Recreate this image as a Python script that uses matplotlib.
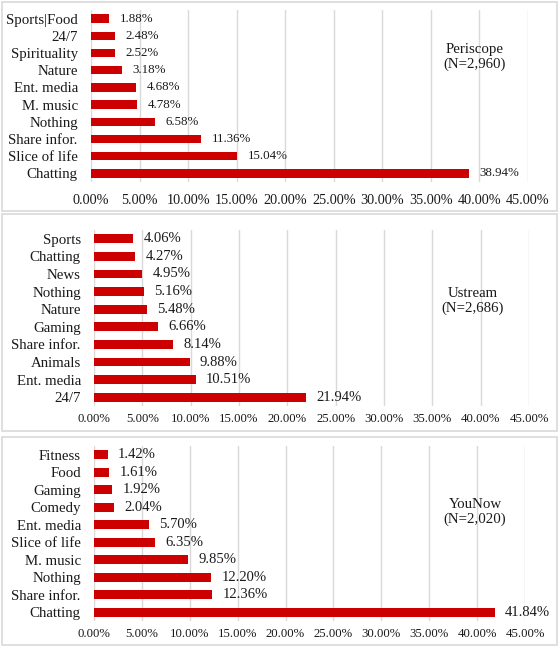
import matplotlib
matplotlib.use("Agg")
import matplotlib.pyplot as plt
from matplotlib.patches import Rectangle
from matplotlib.ticker import FuncFormatter

plt.rcParams['font.family'] = ['Liberation Serif', 'DejaVu Serif']

# ---- data ----
periscope_cats = ["Sports|Food", "24/7", "Spirituality", "Nature", "Ent. media",
                  "M. music", "Nothing", "Share infor.", "Slice of life", "Chatting"]
periscope_vals = [1.88, 2.48, 2.52, 3.18, 4.68, 4.78, 6.58, 11.36, 15.04, 38.94]

ustream_cats = ["Sports", "Chatting", "News", "Nothing", "Nature", "Gaming",
                "Share infor.", "Animals", "Ent. media", "24/7"]
ustream_vals = [4.06, 4.27, 4.95, 5.16, 5.48, 6.66, 8.14, 9.88, 10.51, 21.94]

younow_cats = ["Fitness", "Food", "Gaming", "Comedy", "Ent. media", "Slice of life",
               "M. music", "Nothing", "Share infor.", "Chatting"]
younow_vals = [1.42, 1.61, 1.92, 2.04, 5.70, 6.35, 9.85, 12.20, 12.36, 41.84]

panel_titles = ["Periscope\n(N=2,960)", "Ustream\n(N=2,686)", "YouNow\n(N=2,020)"]
x_ticks = [0, 5, 10, 15, 20, 25, 30, 35, 40, 45]

W, H = 560, 647
fig = plt.figure(figsize=(W / 100, H / 100), dpi=100)
fig.patch.set_facecolor("white")

def fx(px):
    return px / W

def fy(py):
    return 1 - py / H

# panel frames (pixel boxes: left, top, right, bottom)
frames = [(2, 2, 557, 211), (2, 214, 557, 431), (2, 437, 557, 645)]
for (l, t, r, b) in frames:
    fig.patches.append(Rectangle((fx(l), fy(b)), fx(r) - fx(l), fy(t) - fy(b),
                                 transform=fig.transFigure, fill=False,
                                 edgecolor="#d9d9d9", linewidth=1.2))

# axes boxes (left, top, right, bottom) in pixels
axes_px = [(91, 10, 528, 182), (94, 230, 529, 406), (94, 446, 525, 621)]
title_pos = [(475, 57), (473, 301), (475, 512)]
val_size = [9.3, 10.5, 10.5]
tick_size = [10.3, 9.2, 9.2]
tick_pad = [9.0, 5.0, 5.0]
cat_pad = [9.5, 9.5, 9.5]

datasets = [(periscope_cats, periscope_vals),
            (ustream_cats, ustream_vals),
            (younow_cats, younow_vals)]

for i, ((cats, vals), (l, t, r, b)) in enumerate(zip(datasets, axes_px)):
    ax = fig.add_axes([fx(l), fy(b), fx(r) - fx(l), fy(t) - fy(b)])
    y = list(range(len(cats)))
    ax.barh(y, vals, height=0.5, color="#cc0000", zorder=3)
    ax.set_ylim(len(cats) - 0.5, -0.5)
    ax.set_xlim(0, 45)
    ax.set_xticks(x_ticks)
    ax.xaxis.set_major_formatter(FuncFormatter(lambda v, p: f"{v:.2f}%"))
    ax.set_yticks(y)
    ax.set_yticklabels(cats, fontsize=10.7, color="#1a1a1a")
    ax.tick_params(axis="y", length=0, pad=cat_pad[i])
    ax.tick_params(axis="x", length=0, pad=tick_pad[i], labelsize=tick_size[i],
                   labelcolor="#1a1a1a")
    for s in ax.spines.values():
        s.set_visible(False)
    ax.grid(axis="x", color="#d9d9d9", linewidth=1.0, zorder=0)
    ax.set_axisbelow(True)
    for yi, v in zip(y, vals):
        ax.annotate(f"{v:.2f}%", xy=(v, yi), xytext=(7.5, 0),
                    textcoords="offset points", va="center", ha="left",
                    fontsize=val_size[i], color="#1a1a1a")
    tx, ty = title_pos[i]
    fig.text(fx(tx), fy(ty), panel_titles[i], ha="center", va="center",
             fontsize=10.7, linespacing=1.15, color="#1a1a1a")

fig.savefig("out.png", dpi=100)
